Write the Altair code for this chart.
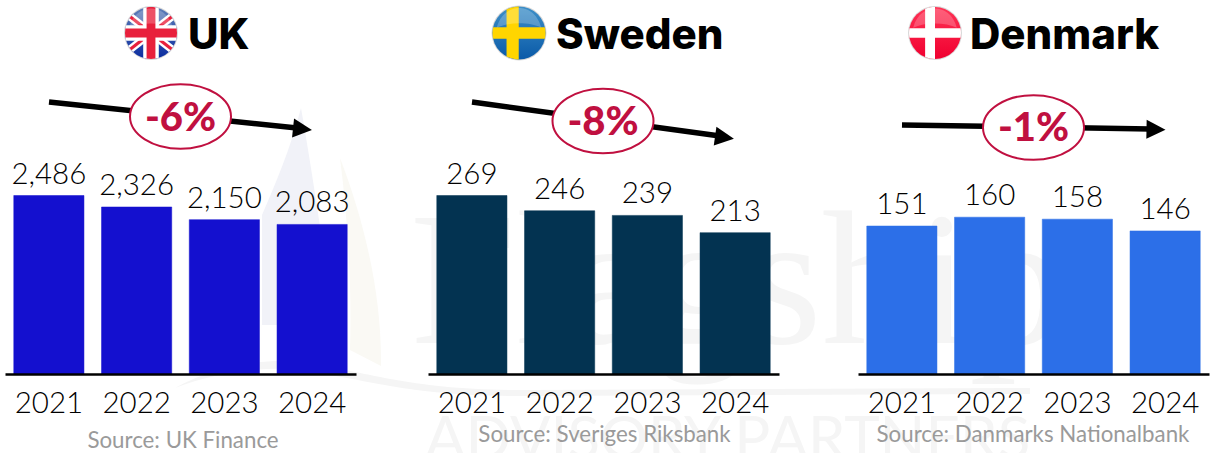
import math
import altair as alt
import pandas as pd

YEARS = ["2021", "2022", "2023", "2024"]
UK_VALUES = [2486, 2326, 2150, 2083]
SWEDEN_VALUES = [269, 246, 239, 213]
DENMARK_VALUES = [151, 160, 158, 146]
COUNTRIES = ["UK", "Sweden", "Denmark"]
CHANGES = ["-6%", "-8%", "-1%"]
SOURCES = ["Source: UK Finance", "Source: Sveriges Riksbank", "Source: Danmarks Nationalbank"]

FONT = "Lato"
RED = "#C01040"
BASE_Y = 374
one = alt.Data(values=[{}])


def band(angle, a, b):
    """Strip across the unit circle, between offsets a and b from its axis."""
    t = math.radians(angle)
    ux, uy, vx, vy = math.cos(t), math.sin(t), -math.sin(t), math.cos(t)
    sa, sb = math.sqrt(1 - a * a), math.sqrt(1 - b * b)
    pt = lambda u, v: f"{u * ux + v * vx:.4f},{u * uy + v * vy:.4f}"
    return (f"M{pt(sa, a)} A1,1 0 0 1 {pt(sb, b)} L{pt(-sb, b)} "
            f"A1,1 0 0 1 {pt(-sa, a)} Z")


def symbol(x, y, shape, size, **kw):
    return alt.Chart(one).mark_point(shape=shape, size=size, filled=True, opacity=1,
                                     strokeWidth=0, **kw).encode(
        x=alt.value(x), y=alt.value(y))


def gradient(top, bottom):
    return alt.Gradient(gradient="linear", x1=0, y1=0, x2=0, y2=1,
                        stops=[alt.GradientStop(offset=0, color=top),
                               alt.GradientStop(offset=1, color=bottom)])


GLOSS = "M-0.84,-0.2 C-0.7,-0.75 -0.3,-0.94 0,-0.94 C0.3,-0.94 0.7,-0.75 0.84,-0.2 C0.4,-0.42 -0.4,-0.42 -0.84,-0.2 Z"


def flag(x, y, r, base, parts):
    size = (2 * r) ** 2
    layers = [
        symbol(x, y, "circle", (2 * r + 2) ** 2, fill="#D8D8D8"),
        symbol(x, y, "circle", size, fill=base),
    ]
    for shape, colour in parts:
        layers.append(symbol(x, y, shape, size, fill=colour))
    layers.append(symbol(x, y, GLOSS, size, fill="#FFFFFF", fillOpacity=0.22))
    return layers


def arrow(x1, y1, x2, y2, hx, hy, angle):
    line = alt.Chart(one).mark_rule(color="black", strokeWidth=5.5).encode(
        x=alt.value(x1), y=alt.value(y1), x2=alt.value(x2), y2=alt.value(y2))
    head = symbol(hx, hy, "M-1,-1 L1,0 L-1,1 Z", 19 ** 2, fill="black", angle=angle)
    return [line, head]


def badge(cx, cy, text, baseline):
    ellipse = alt.Chart(one).mark_point(
        shape="M-1,0 A1,0.64 0 1,1 1,0 A1,0.64 0 1,1 -1,0 Z", size=101 ** 2, filled=True,
        opacity=1, fill="white", stroke=RED, strokeWidth=2).encode(x=alt.value(cx), y=alt.value(cy))
    label = alt.Chart(one).mark_text(text=text, font=FONT, fontSize=40, fontWeight=900,
                                     color=RED, align="center", baseline="alphabetic").encode(
        x=alt.value(cx), y=alt.value(baseline))
    return [ellipse, label]


def caption(x, y, text, size, colour, weight, align="left", font=FONT):
    return alt.Chart(one).mark_text(text=text, font=font, fontSize=size, fontWeight=weight,
                                    color=colour, align=align, baseline="alphabetic").encode(
        x=alt.value(x), y=alt.value(y))


def panel(values, colour, left, right, rate):
    frame = pd.DataFrame({"year": YEARS, "value": values})
    x_scale = alt.Scale(domain=YEARS, range=[left, right], paddingInner=0.2, paddingOuter=0.1)
    y_scale = alt.Scale(domain=[0, BASE_Y / rate], range=[BASE_Y, 0])
    bars = alt.Chart(frame).mark_bar(color=colour, stroke=colour, strokeOpacity=0.5, strokeWidth=1).encode(
        x=alt.X("year:N", scale=x_scale, title=None,
                axis=alt.Axis(orient="bottom", offset=BASE_Y - 453, labelAngle=0, labelFont=FONT,
                              labelFontSize=29.5, labelFontWeight=300, labelColor="black",
                              labelPadding=15, domainColor="black", domainWidth=2.5, ticks=False,
                              grid=False, labelOverlap=False, zindex=1)),
        y=alt.Y("value:Q", scale=y_scale, axis=None),
    )
    labels = alt.Chart(frame).mark_text(font=FONT, fontSize=29.5, fontWeight=300, color="black",
                                        baseline="alphabetic", dy=-12).encode(
        x=alt.X("year:N", scale=x_scale, axis=None),
        y=alt.Y("value:Q", scale=y_scale, axis=None),
        text=alt.Text("value:Q", format=","),
    )
    return [bars, labels]


# Faint house mark behind the panels
WM_BLUE = "#F1F2F8"
WM_BEIGE = "#FAF9F4"
WM_GREY = "#F5F5F5"
watermark = [
    symbol(0, 0, "M301,108 C312,170 325,260 335,325 L262,325 L262,215 C275,185 290,150 301,108 Z",
           4, fill=WM_BLUE),
    symbol(0, 0, "M340,158 C362,215 382,290 381,366 L350,350 C352,290 348,220 340,158 Z", 4, fill=WM_BEIGE),
    symbol(0, 0, "M175,388 C215,366 265,358 300,362 C370,372 410,390 520,390 L1030,388 L1030,394 L520,396 C410,396 370,380 300,370 C265,366 215,372 175,388 Z",
           4, fill=WM_GREY),
    caption(410, 343, "Flagship", 190, WM_GREY, 400, font="Liberation Serif"),
    caption(425, 459, "ADVISORY PARTNERS", 60, WM_GREY, 400),
]

red_uk, white = "#E8203C", "#FFFFFF"
uk_parts = [
    (band(38, -0.15, 0.15), white), (band(-38, -0.15, 0.15), white),
    (band(38, -0.06, 0.06), red_uk), (band(-38, -0.06, 0.06), red_uk),
    (band(0, -0.3, 0.3), white), (band(90, -0.3, 0.3), white),
    (band(0, -0.17, 0.17), red_uk), (band(90, -0.17, 0.17), red_uk),
]
sweden_parts = [(band(0, -0.22, 0.22), "#FFD500"), (band(90, 0.01, 0.47), "#FFD500")]
denmark_parts = [(band(0, -0.18, 0.18), white), (band(90, 0.0, 0.38), white)]

layers = (
    watermark
    + panel(UK_VALUES, "#1410CF", 5, 356, 178.5 / 2486)
    + panel(SWEDEN_VALUES, "#033351", 428, 779, 178.5 / 269)
    + panel(DENMARK_VALUES, "#2C6FE8", 858, 1209, 0.98)
    + flag(151, 33, 26, gradient("#5F7FB8", "#0A2CA0"), uk_parts)
    + flag(519, 33, 26.5, gradient("#3D8FC8", "#0A5AA8"), sweden_parts)
    + flag(935, 33, 26, gradient("#FF3355", "#F00030"), denmark_parts)
    + [caption(188, 49, COUNTRIES[0], 42, "black", 800, font="Inter"),
       caption(556, 49, COUNTRIES[1], 42, "black", 800, font="Inter"),
       caption(970, 49, COUNTRIES[2], 42, "black", 800, font="Inter")]
    + arrow(49, 102, 297, 128, 302.5, 129, 6)
    + arrow(472, 102, 720, 136, 724.5, 137.5, 8)
    + arrow(902, 125, 1150, 129, 1156, 129.5, 1)
    + badge(180.5, 116.5, CHANGES[0], 131)
    + badge(603, 121, CHANGES[1], 135)
    + badge(1033.5, 127.5, CHANGES[2], 141)
    + [caption(183, 448, SOURCES[0], 22.3, "#9A9A9A", 400, "center"),
       caption(604.5, 442, SOURCES[1], 22.3, "#9A9A9A", 400, "center"),
       caption(1033, 442, SOURCES[2], 22.3, "#9A9A9A", 400, "center")]
)

chart = alt.layer(*layers).resolve_scale(x="independent", y="independent").properties(
    width=1213, height=453, padding=0, autosize=alt.AutoSizeParams(type="none"), background="white"
).configure_view(stroke=None)

chart.save("out.html", embed_options={"renderer": "svg", "actions": False})
